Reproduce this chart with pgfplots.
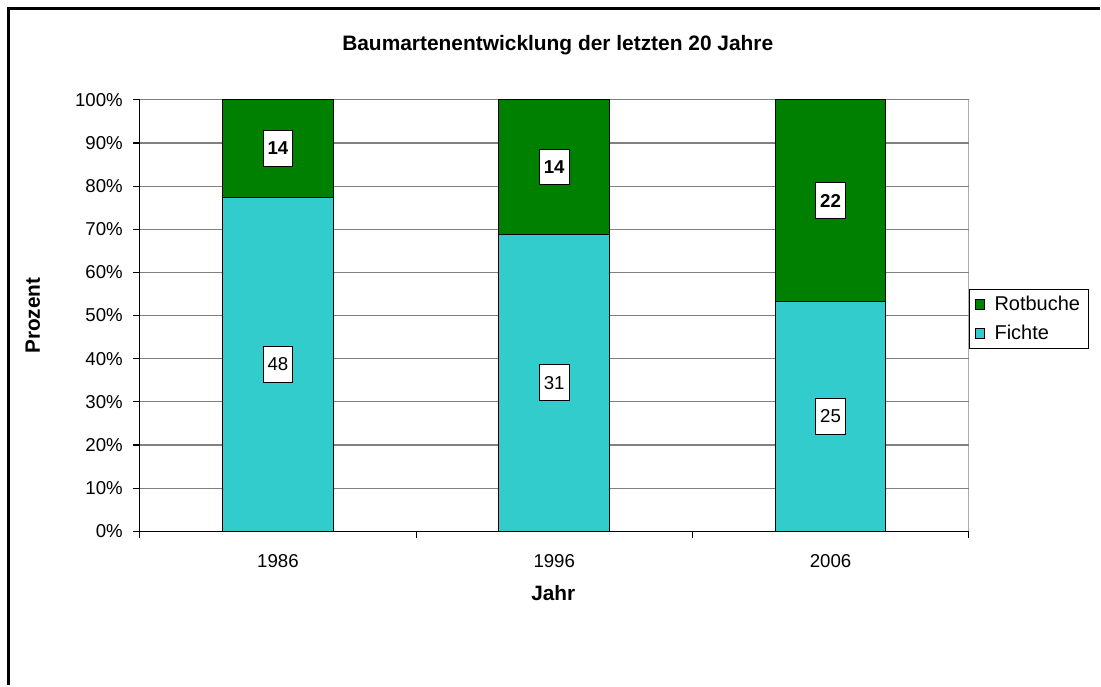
\documentclass[border=0pt]{standalone}
\usepackage{fontspec}
\setmainfont{Liberation Sans}
\usepackage{pgfplots}
\usepackage{pgfplotstable}
\pgfplotsset{compat=1.18}
\definecolor{fichte}{HTML}{33CCCC}
\definecolor{rotbuche}{HTML}{008000}
\definecolor{gridgray}{HTML}{808080}

% percentages of each year (100% stacked); label = raw count
\pgfplotstableread{
x  y      label
0  77.42  48
1  68.89  31
2  53.19  25
}\fichtetab
\pgfplotstableread{
x  y      label
0  22.58  14
1  31.11  14
2  46.81  22
}\rotbuchetab
% middle of each segment, for the value boxes
\pgfplotstableread{
x  ymid   label
0  38.71  48
1  34.44  31
2  26.60  25
}\fichtelab
\pgfplotstableread{
x  ymid   label
0  88.71  14
1  84.44  14
2  76.60  22
}\rotbuchelab

\begin{document}
\begin{tikzpicture}[x=1pt,y=1pt]
\fill[white] (0,0) rectangle (825.75,514.5);
\draw[black, line width=2.25pt] (6.75,0) -- (6.75,507.75) -- (825.75,507.75);
\pgfplotsset{common/.style={
  scale only axis, width=622.5pt, height=324pt,
  at={(105pt,115.5pt)}, anchor=south west,
  xmin=-0.5, xmax=2.5, ymin=0, ymax=100}}
\begin{axis}[common,
  ybar stacked, bar width=0.4,
  axis lines*=left,
  axis line style={black, line width=0.9pt},
  tick style={black, line width=0.9pt},
  tick align=outside, major tick length=5.25pt,
  xtick={-0.5,0.5,1.5,2.5}, xticklabels={},
  extra x ticks={0,1,2}, extra x tick labels={1986,1996,2006},
  extra x tick style={major tick length=0pt},
  ytick={0,10,...,100},
  yticklabel={\pgfmathprintnumber{\tick}\%},
  /pgf/number format/assume math mode=true,
  tick label style={font=\fontsize{14}{16}\selectfont},
  xticklabel style={yshift=-14pt},
  yticklabel style={xshift=-4pt},
  ymajorgrids, grid style={gridgray, line width=0.9pt},
  reverse legend,
  legend cell align=left,
  legend style={at={(1,0.5625)}, anchor=north west, draw=black, line width=0.75pt,
    font=\fontsize{15}{17}\selectfont, inner xsep=4pt, inner ysep=3.5pt, row sep=5pt},
  legend image code/.code={\draw[#1, line width=0.6pt] (0pt,-3.75pt) rectangle (7.5pt,3.75pt);
    \path[draw=none, fill=none] (0pt,0pt) rectangle (12.75pt,0.1pt);},
]
\addplot[fill=fichte, draw=black, line width=0.75pt] table[x=x,y=y]{\fichtetab};
\addlegendentry{Fichte}
\addplot[fill=rotbuche, draw=black, line width=0.75pt] table[x=x,y=y]{\rotbuchetab};
\addlegendentry{Rotbuche}
\draw[gridgray, line width=0.9pt] (axis cs:2.5,0) -- (axis cs:2.5,100);
\end{axis}
\begin{axis}[common, hide axis]
\addplot[only marks, mark=none, nodes near coords, point meta=explicit symbolic,
  every node near coord/.append style={anchor=center, draw=black, fill=white, text=black,
    font=\fontsize{14}{16}\selectfont, inner xsep=3.4pt, minimum height=27pt, line width=0.75pt}]
  table[x=x, y=ymid, meta=label]{\fichtelab};
\addplot[only marks, mark=none, nodes near coords, point meta=explicit symbolic,
  every node near coord/.append style={anchor=center, draw=black, fill=white, text=black,
    font=\bfseries\fontsize{14}{16}\selectfont, inner xsep=3.4pt, minimum height=27pt, line width=0.75pt}]
  table[x=x, y=ymid, meta=label]{\rotbuchelab};
\end{axis}
\node[font=\bfseries\fontsize{15.7}{18}\selectfont, anchor=base] at (418.9,476.25) {Baumartenentwicklung der letzten 20 Jahre};
\node[font=\bfseries\fontsize{15.6}{18}\selectfont, rotate=90] at (24.75,277.5) {Prozent};
\node[font=\bfseries\fontsize{15.6}{18}\selectfont, anchor=base] at (415.5,63.4) {Jahr};
\end{tikzpicture}
\end{document}
